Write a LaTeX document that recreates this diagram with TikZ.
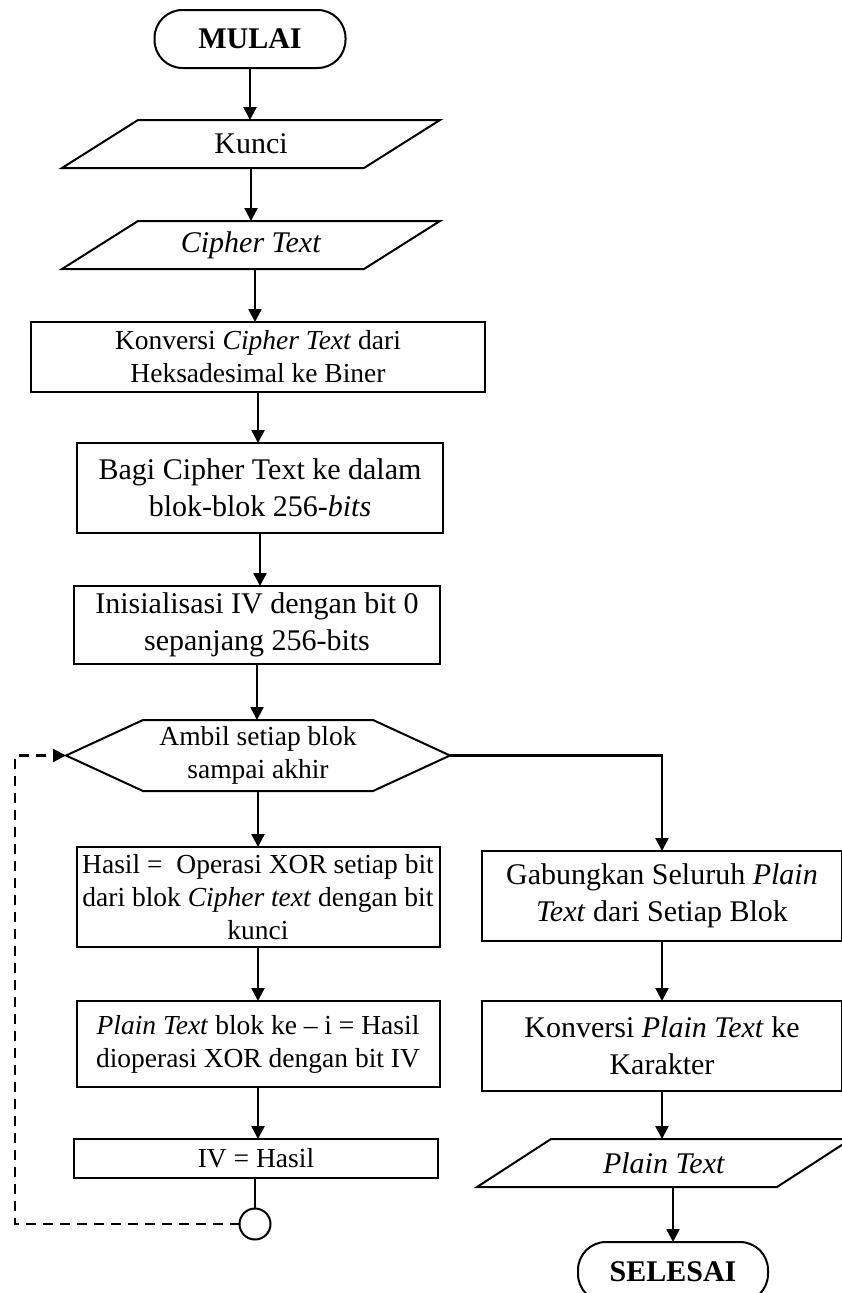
\documentclass[tikz,border=0pt]{standalone}
\usepackage{fontspec}
\setmainfont{Liberation Serif}
\usetikzlibrary{arrows.meta,calc}
\begin{document}
\begin{tikzpicture}[x=1pt,y=-1pt,
  every node/.style={inner sep=0pt, outer sep=0pt},
  box/.style={draw, line width=2pt, rectangle, align=center},
  plainlbl/.style={align=center},
  big/.style={font=\fontsize{30}{37}\selectfont},
  small/.style={font=\fontsize{27.5}{33}\selectfont},
  term/.style={draw, line width=2pt, rounded corners=28pt, align=center},
  flow/.style={line width=2.4pt, -{Triangle[length=13pt,width=13pt]}},
  link/.style={line width=2.4pt},
  loopback/.style={line width=2.2pt, dash pattern=on 10pt off 7pt, -{Triangle[length=13pt,width=13pt]}},
  shapeline/.style={line width=2pt, line join=miter}
]
\useasboundingbox (0,0) rectangle (842,1293);
\fill[white] (0,0) rectangle (842,1293);

% left column
\node[term, big, minimum width=191pt, minimum height=58pt] (mulai) at (250,39) {\textbf{MULAI}};

\node[plainlbl, big, minimum width=378pt, minimum height=48pt] (kunci) at (251,144) {Kunci};
\draw[shapeline] (kunci.south west) -- ($(kunci.north west)+(76,0)$) -- (kunci.north east) -- ($(kunci.south east)+(-76,0)$) -- cycle;

\node[plainlbl, big, minimum width=378pt, minimum height=48pt] (cipher) at (251,245) {\textit{Cipher Text}};
\draw[shapeline] (cipher.south west) -- ($(cipher.north west)+(76,0)$) -- (cipher.north east) -- ($(cipher.south east)+(-76,0)$) -- cycle;

\node[box, small, minimum width=454pt, minimum height=70pt] (konv) at (258,357) {Konversi \textit{Cipher Text} dari\\Heksadesimal ke Biner};

\node[box, big, minimum width=366pt, minimum height=90pt] (bagi) at (260,488) {Bagi Cipher Text ke dalam\\blok-blok 256-\textit{bits}};

\node[box, big, minimum width=366pt, minimum height=78pt] (init) at (257,625) {Inisialisasi IV dengan bit 0\\sepanjang 256-bits};

\node[plainlbl, small, minimum width=384pt, minimum height=71pt] (hex) at (258,755.5) {Ambil setiap blok\\sampai akhir};
\draw[shapeline] (hex.west) -- ($(hex.north west)+(77,0)$) -- ($(hex.north east)+(-77,0)$) -- (hex.east) -- ($(hex.south east)+(-77,0)$) -- ($(hex.south west)+(77,0)$) -- cycle;

\node[box, small, minimum width=363pt, minimum height=100pt] (hasil) at (258,897) {Hasil =\ \ Operasi XOR setiap bit\\dari blok \textit{Cipher text} dengan bit\\kunci};

\node[box, small, minimum width=363pt, minimum height=86pt] (blok) at (258,1044) {\textit{Plain Text} blok ke -- i = Hasil\\dioperasi XOR dengan bit IV};

\node[box, small, minimum width=364pt, minimum height=39pt] (iv) at (256,1158.5) {IV = Hasil};

\node[draw, circle, line width=2pt, minimum size=31pt] (circ) at (255,1224) {};
\coordinate (lp) at (15,1224);

% right column
\node[box, big, minimum width=360pt, minimum height=90pt] (gab) at (662,896) {Gabungkan Seluruh \textit{Plain}\\\textit{Text} dari Setiap Blok};

\node[box, big, minimum width=360pt, minimum height=90pt] (kplain) at (662,1046) {Konversi \textit{Plain Text} ke\\Karakter};

\node[plainlbl, big, minimum width=374pt, minimum height=48pt] (pout) at (664,1163) {\textit{Plain Text}};
\draw[shapeline] (pout.south west) -- ($(pout.north west)+(74,0)$) -- (pout.north east) -- ($(pout.south east)+(-74,0)$) -- cycle;

\node[term, big, minimum width=190pt, minimum height=60pt] (selesai) at (673,1272) {\textbf{SELESAI}};

% connectors
\draw[flow] (mulai.south) -- (mulai.south |- kunci.north);
\draw[flow] (kunci.south) -- (kunci.south |- cipher.north);
\draw[flow] (cipher.south) ++(4,0) coordinate (cs) -- (cs |- konv.north);
\draw[flow] (konv.south) -- (konv.south |- bagi.north);
\draw[flow] (bagi.south) -- (bagi.south |- init.north);
\draw[flow] (init.south) -- (init.south |- hex.north);
\draw[flow] (hex.south) -- (hex.south |- hasil.north);
\draw[flow] (hasil.south) -- (hasil.south |- blok.north);
\draw[flow] (blok.south) -- (blok.south |- iv.north);
\draw[link] (circ.north |- iv.south) -- (circ.north);
\draw[loopback] (circ.west) -- (lp) |- (hex.west);
\draw[flow] (hex.east) -| (gab.north);
\draw[flow] (gab.south) -- (kplain.north);
\draw[flow] (kplain.south) -- (kplain.south |- pout.north);
\draw[flow] (selesai.north |- pout.south) -- (selesai.north);
\end{tikzpicture}
\end{document}
